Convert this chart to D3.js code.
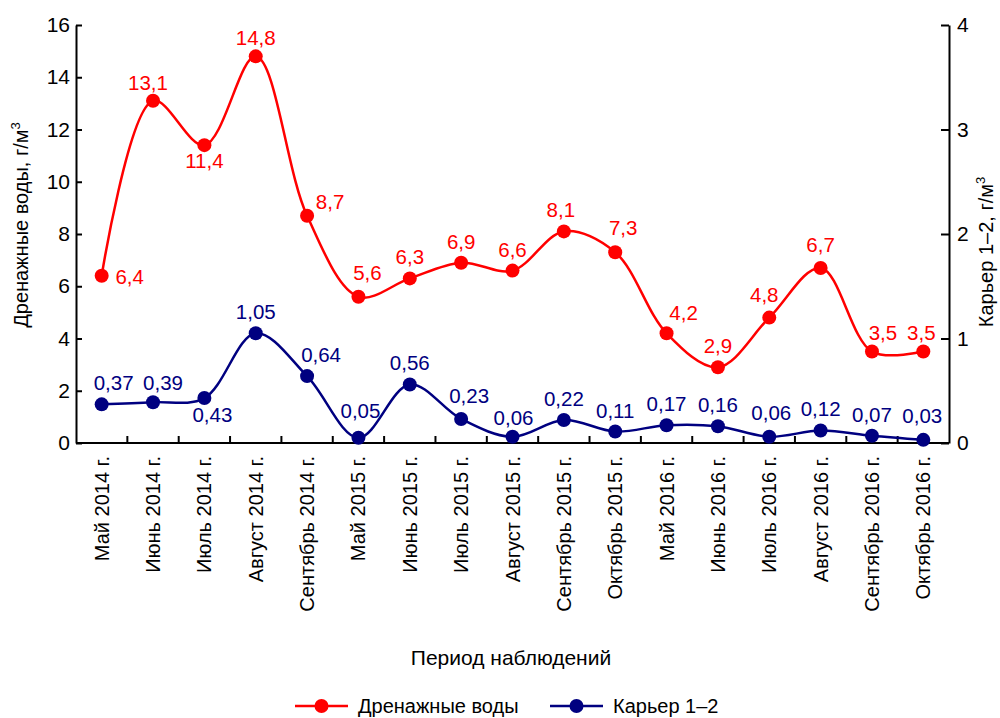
<!DOCTYPE html>
<html>
<head>
<meta charset="utf-8">
<script src="https://cdn.jsdelivr.net/npm/d3@7"></script>
<style>
  body { margin: 0; background: #fff; }
  svg { font-family: "Liberation Sans", Arial, sans-serif; }
</style>
</head>
<body>
<div id="chart"></div>
<script>
// данные
const periods = [
    'Май 2014 г.', 'Июнь 2014 г.', 'Июль 2014 г.', 'Август 2014 г.', 'Сентябрь 2014 г.',
    'Май 2015 г.', 'Июнь 2015 г.', 'Июль 2015 г.', 'Август 2015 г.', 'Сентябрь 2015 г.', 'Октябрь 2015 г.',
    'Май 2016 г.', 'Июнь 2016 г.', 'Июль 2016 г.', 'Август 2016 г.', 'Сентябрь 2016 г.', 'Октябрь 2016 г.'
];
const drainage = [6.4, 13.1, 11.4, 14.8, 8.7, 5.6, 6.3, 6.9, 6.6, 8.1, 7.3, 4.2, 2.9, 4.8, 6.7, 3.5, 3.5];
const quarry = [0.37, 0.39, 0.43, 1.05, 0.64, 0.05, 0.56, 0.23, 0.06, 0.22, 0.11, 0.17, 0.16, 0.06, 0.12, 0.07, 0.03];
const leftTicks = [0, 2, 4, 6, 8, 10, 12, 14, 16];
const rightTicks = [0, 1, 2, 3, 4];

const RED = '#ff0000';
const NAVY = '#000080';
const FONT = 'Liberation Sans, Arial, sans-serif';

// смещения подписей значений (dx, dy от точки)
const redLabelPos = {
    0: [28, 8], 1: [-5, -11], 2: [0, 23], 3: [0, -11], 4: [23, -7], 5: [9, -17],
    9: [-3, -14], 10: [8, -17], 11: [17, -13], 13: [-5, -16], 14: [0, -16], 15: [11, -12], 16: [-2, -12]
};
const blueLabelPos = {
    0: [12, -14], 1: [10, -12], 2: [8, 24], 4: [14, -14], 5: [2, -20], 7: [8, -16],
    8: [1, -12], 13: [2, -17], 16: [-1, -17]
};

const width = 1000;
const height = 718;
const [mt, mr, mb, ml] = [25, 51, 275, 76];
const plotW = width - ml - mr;
const plotH = height - mt - mb;

const svg = d3
    .select('#chart')
    .append('svg')
    .attr('width', width)
    .attr('height', height)
    .attr('viewBox', [0, 0, width, height])
    .attr('font-family', FONT);

const graph = svg.append('g').attr('transform', `translate(${ml}, ${mt})`);

const x = d3.scaleBand().domain(periods).range([0, plotW]).padding(0);
const yL = d3.scaleLinear().domain([0, 16]).range([plotH, 0]);
const yR = d3.scaleLinear().domain([0, 4]).range([plotH, 0]);
const cx = (d) => x(d) + x.bandwidth() / 2;

// оси
const leftAxis = graph
    .append('g')
    .call(d3.axisLeft(yL).tickValues(leftTicks).tickFormat(d3.format('d')).tickSizeInner(-6).tickSizeOuter(0).tickPadding(6));
const rightAxis = graph
    .append('g')
    .attr('transform', `translate(${plotW},0)`)
    .call(d3.axisRight(yR).tickValues(rightTicks).tickFormat(d3.format('d')).tickSizeInner(-8).tickSizeOuter(0).tickPadding(8));

[leftAxis, rightAxis].forEach((a) => {
    a.attr('font-family', FONT).attr('font-size', 21);
    a.select('.domain').attr('stroke', '#000').attr('stroke-width', 2);
    a.selectAll('.tick line').attr('stroke', '#000').attr('stroke-width', 2);
    a.selectAll('.tick text').attr('fill', '#000');
});

// ось X: линия, засечки на границах категорий, подписи
graph
    .append('line')
    .attr('x1', 0)
    .attr('x2', plotW)
    .attr('y1', plotH)
    .attr('y2', plotH)
    .attr('stroke', '#000')
    .attr('stroke-width', 2);

graph
    .append('g')
    .selectAll('line')
    .data(periods.slice(1))
    .join('line')
    .attr('x1', (d) => x(d))
    .attr('x2', (d) => x(d))
    .attr('y1', plotH)
    .attr('y2', plotH - 7)
    .attr('stroke', '#000')
    .attr('stroke-width', 2);

graph
    .append('g')
    .selectAll('text')
    .data(periods)
    .join('text')
    .attr('transform', (d) => `translate(${cx(d) + 7},${plotH + 13}) rotate(-90)`)
    .attr('text-anchor', 'end')
    .attr('font-size', 20)
    .attr('fill', '#000')
    .text((d) => d);

// заголовки осей
svg.append('text')
    .attr('transform', 'translate(28,225) rotate(-90)')
    .attr('text-anchor', 'middle')
    .attr('font-size', 20)
    .call((t) => {
        t.append('tspan').text('Дренажные воды, г/м');
        t.append('tspan').attr('dy', -8).attr('font-size', 13).text('3');
    });

svg.append('text')
    .attr('transform', 'translate(993,252) rotate(-90)')
    .attr('text-anchor', 'middle')
    .attr('font-size', 20)
    .call((t) => {
        t.append('tspan').text('Карьер 1–2, г/м');
        t.append('tspan').attr('dy', -8).attr('font-size', 13).text('3');
    });

svg.append('text')
    .attr('x', 511)
    .attr('y', 665)
    .attr('text-anchor', 'middle')
    .attr('font-size', 21)
    .text('Период наблюдений');

// серии
const drawSeries = (values, y, color, labelPos) => {
    const pts = values.map((v, i) => [cx(periods[i]), y(v)]);
    graph
        .append('path')
        .datum(pts)
        .attr('fill', 'none')
        .attr('stroke', color)
        .attr('stroke-width', 2.5)
        .attr('d', d3.line().curve(d3.curveCatmullRom.alpha(0.5)));

    graph
        .append('g')
        .selectAll('circle')
        .data(pts)
        .join('circle')
        .attr('cx', (d) => d[0])
        .attr('cy', (d) => d[1])
        .attr('r', 7)
        .attr('fill', color);

    graph
        .append('g')
        .selectAll('text')
        .data(values)
        .join('text')
        .attr('x', (d, i) => pts[i][0] + (labelPos[i] ? labelPos[i][0] : 0))
        .attr('y', (d, i) => pts[i][1] + (labelPos[i] ? labelPos[i][1] : -14))
        .attr('text-anchor', 'middle')
        .attr('font-size', 20.5)
        .attr('fill', color)
        .text((d) => String(d).replace('.', ','));
};

drawSeries(quarry, yR, NAVY, blueLabelPos);
drawSeries(drainage, yL, RED, redLabelPos);

// легенда
const legend = svg.append('g').attr('transform', 'translate(0,706)');
const items = [
    { name: 'Дренажные воды', color: RED, x: 295 },
    { name: 'Карьер 1–2', color: NAVY, x: 550 }
];
const li = legend.selectAll('g').data(items).join('g').attr('transform', (d) => `translate(${d.x},0)`);
li.append('line').attr('x1', 0).attr('x2', 53).attr('stroke', (d) => d.color).attr('stroke-width', 2.5);
li.append('circle').attr('cx', 26.5).attr('r', 7).attr('fill', (d) => d.color);
li.append('text')
    .attr('x', 63)
    .attr('y', 7)
    .attr('font-size', 20)
    .attr('fill', '#000')
    .text((d) => d.name);
</script>
</body>
</html>
